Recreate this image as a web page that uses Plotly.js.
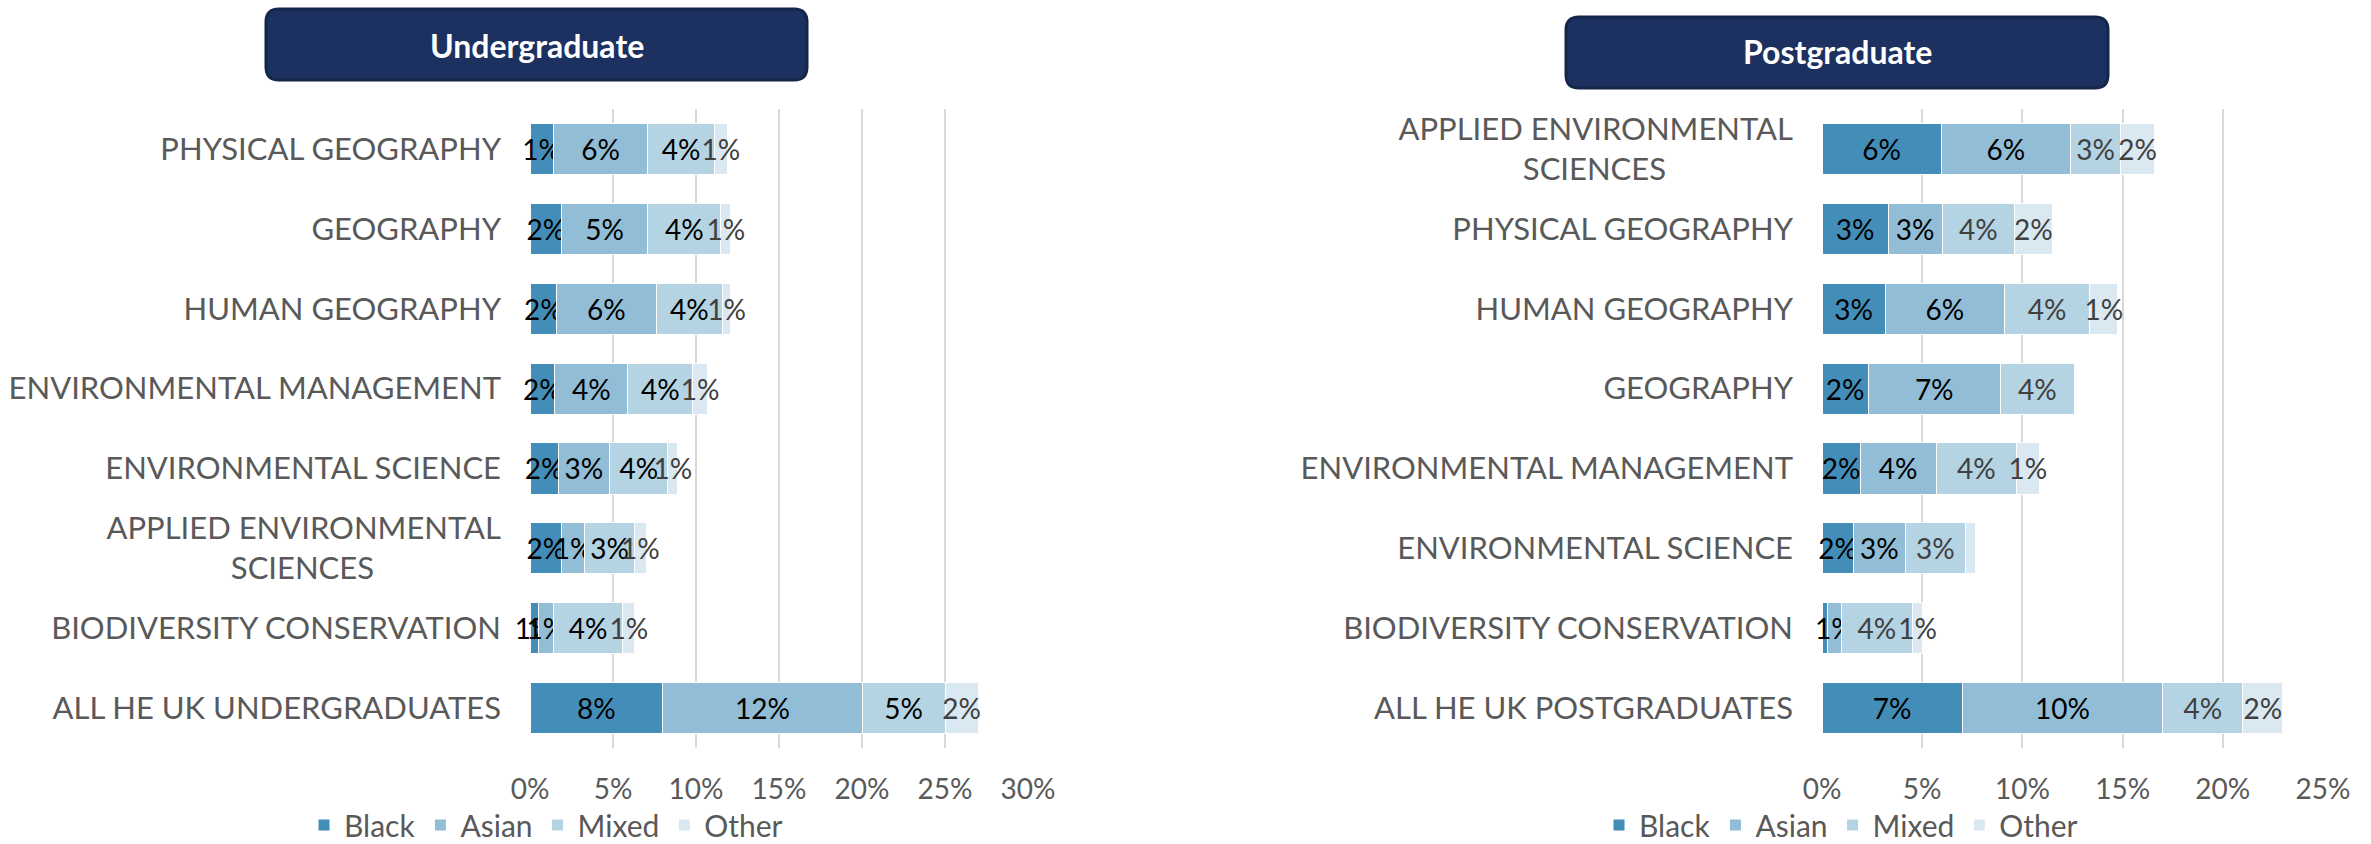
<!DOCTYPE html>
<html>
<head>
<meta charset="utf-8">
<script src="https://cdn.plot.ly/plotly-3.0.1.min.js"></script>
<style>
  html, body { margin: 0; padding: 0; background: #ffffff; }
  #chart { width: 2371px; height: 844px; }
</style>
</head>
<body>
<div id="chart"></div>
<script>
// ---------------- DATA ----------------
const seriesNames = ['Black', 'Asian', 'Mixed', 'Other'];

const categoriesUG = [
  'PHYSICAL GEOGRAPHY',
  'GEOGRAPHY',
  'HUMAN GEOGRAPHY',
  'ENVIRONMENTAL MANAGEMENT',
  'ENVIRONMENTAL SCIENCE',
  'APPLIED ENVIRONMENTAL<br>SCIENCES',
  'BIODIVERSITY CONSERVATION',
  'ALL HE UK UNDERGRADUATES'
];
const blackUG = [1.4, 1.9, 1.6, 1.5, 1.7, 1.9, 0.5, 8];
const asianUG = [5.7, 5.2, 6.0, 4.4, 3.1, 1.4, 0.9, 12];
const mixedUG = [4.0, 4.4, 4.0, 3.9, 3.5, 3.0, 4.2, 5];
const otherUG = [0.8, 0.6, 0.5, 0.9, 0.6, 0.7, 0.7, 2];

const categoriesPG = [
  'APPLIED ENVIRONMENTAL<br>SCIENCES',
  'PHYSICAL GEOGRAPHY',
  'HUMAN GEOGRAPHY',
  'GEOGRAPHY',
  'ENVIRONMENTAL MANAGEMENT',
  'ENVIRONMENTAL SCIENCE',
  'BIODIVERSITY CONSERVATION',
  'ALL HE UK POSTGRADUATES'
];
const blackPG = [5.95, 3.3, 3.15, 2.3, 1.9, 1.56, 0.29, 7];
const asianPG = [6.45, 2.7, 5.95, 6.6, 3.8, 2.6, 0.66, 10];
const mixedPG = [2.5, 3.6, 4.27, 3.7, 4.0, 3.0, 3.57, 4];
const otherPG = [1.7, 1.9, 1.39, 0, 1.15, 0.48, 0.51, 2];

const ticksUG = [0, 5, 10, 15, 20, 25, 30];
const ticksPG = [0, 5, 10, 15, 20, 25];

const titleUG = 'Undergraduate';
const titlePG = 'Postgraduate';

// ---------------- STYLE ----------------
const W = 2371, H = 844;
const FONT = 'Lato, "Open Sans", sans-serif';
const barColors = ['#438EB9', '#91BDD6', '#B4D3E3', '#DAE8F1'];
const labelColorsUG = ['#000000', '#000000', '#000000', '#404040'];
const labelColorsPG = ['#000000', '#000000', '#404040', '#404040'];
const grey = '#595959';

const px = v => v / W;
const py = v => 1 - v / H;

// centre multi-line category labels by right-padding shorter lines with NBSPs
const canvas = document.createElement('canvas');
const ctx = canvas.getContext('2d');
function centred(label, size) {
  const lines = label.split('<br>');
  if (lines.length < 2) return label;
  ctx.font = size + 'px Lato';
  const widths = lines.map(l => ctx.measureText(l).width);
  const maxW = Math.max(...widths);
  const nb = ctx.measureText('\u00A0').width || size * 0.25;
  return lines.map((l, i) => {
    const n = Math.round((maxW - widths[i]) / 2 / nb);
    return l + '\u00A0'.repeat(n);
  }).join('<br>');
}

function pct(v) {
  const r = Math.round(v);
  return r >= 1 ? r + '%' : '';
}

function makeTraces(cats, seriesVals, xa, ya, legendId, textColors) {
  return seriesVals.map((vals, i) => ({
    type: 'bar',
    orientation: 'h',
    name: seriesNames[i],
    x: vals,
    y: cats,
    xaxis: xa,
    yaxis: ya,
    legend: legendId,
    marker: { color: barColors[i], line: { color: '#ffffff', width: 1 } },
    text: vals.map(pct),
    textposition: 'inside',
    insidetextanchor: 'middle',
    textangle: 0,
    constraintext: 'none',
    cliponaxis: false,
    textfont: { family: FONT, size: 28, color: textColors[i] },
    hoverinfo: 'skip'
  }));
}

const data = [
  ...makeTraces(categoriesUG, [blackUG, asianUG, mixedUG, otherUG], 'x', 'y', 'legend', labelColorsUG),
  ...makeTraces(categoriesPG, [blackPG, asianPG, mixedPG, otherPG], 'x2', 'y2', 'legend2', labelColorsPG)
];

function roundedBox(x0, y0, x1, y1, r) {
  const rx = r / W, ry = r / H;
  const X0 = px(x0), X1 = px(x1), Y0 = py(y0), Y1 = py(y1);
  return `M${X0 + rx},${Y0} L${X1 - rx},${Y0} Q${X1},${Y0} ${X1},${Y0 - ry} ` +
         `L${X1},${Y1 + ry} Q${X1},${Y1} ${X1 - rx},${Y1} ` +
         `L${X0 + rx},${Y1} Q${X0},${Y1} ${X0},${Y1 + ry} ` +
         `L${X0},${Y0 - ry} Q${X0},${Y0} ${X0 + rx},${Y0} Z`;
}

const yDomain = [py(748), py(109)];

const xCommon = {
  showgrid: true, gridcolor: '#D9D9D9', gridwidth: 2,
  zeroline: false, showline: false, ticks: '',
  tickmode: 'array', fixedrange: true, automargin: false,
  tickfont: { family: FONT, size: 28, color: grey },
  ticklabelstandoff: 22
};
const yCommon = {
  type: 'category', autorange: 'reversed',
  showgrid: false, zeroline: false, showline: false, ticks: '',
  tickmode: 'array', fixedrange: true, automargin: false,
  tickfont: { family: FONT, size: 31, color: grey },
  ticklabelstandoff: 28
};

const layout = {
  width: W, height: H,
  margin: { l: 0, r: 0, t: 0, b: 0, pad: 0, autoexpand: false },
  paper_bgcolor: '#ffffff', plot_bgcolor: '#ffffff',
  barmode: 'stack',
  bargap: 0.36,
  showlegend: true,
  xaxis: Object.assign({}, xCommon, {
    domain: [px(530), px(1028)], range: [0, 30],
    tickvals: ticksUG, ticktext: ticksUG.map(t => t + '%'), anchor: 'y'
  }),
  yaxis: Object.assign({}, yCommon, {
    domain: yDomain, anchor: 'x',
    tickvals: categoriesUG, ticktext: categoriesUG.map(c => centred(c, 31))
  }),
  xaxis2: Object.assign({}, xCommon, {
    domain: [px(1822), px(2323)], range: [0, 25],
    tickvals: ticksPG, ticktext: ticksPG.map(t => t + '%'), anchor: 'y2'
  }),
  yaxis2: Object.assign({}, yCommon, {
    domain: yDomain, anchor: 'x2',
    tickvals: categoriesPG, ticktext: categoriesPG.map(c => centred(c, 31))
  }),
  legend: {
    orientation: 'h', x: px(546), xanchor: 'center', y: py(825), yanchor: 'middle',
    font: { family: FONT, size: 30, color: grey }, bgcolor: 'rgba(0,0,0,0)', traceorder: 'normal'
  },
  legend2: {
    orientation: 'h', x: px(1841), xanchor: 'center', y: py(825), yanchor: 'middle',
    font: { family: FONT, size: 30, color: grey }, bgcolor: 'rgba(0,0,0,0)', traceorder: 'normal'
  },
  shapes: [
    { type: 'path', xref: 'paper', yref: 'paper', path: roundedBox(266, 9, 807, 80, 13),
      fillcolor: '#1C3160', line: { color: '#14264A', width: 3 }, layer: 'above' },
    { type: 'path', xref: 'paper', yref: 'paper', path: roundedBox(1566, 17, 2108, 88, 13),
      fillcolor: '#1C3160', line: { color: '#14264A', width: 3 }, layer: 'above' }
  ],
  annotations: [
    { xref: 'paper', yref: 'paper', x: px(536.5), y: py(45), xanchor: 'center', yanchor: 'middle',
      text: '<b>' + titleUG + '</b>', showarrow: false,
      font: { family: FONT, size: 32, color: '#ffffff' } },
    { xref: 'paper', yref: 'paper', x: px(1837), y: py(52), xanchor: 'center', yanchor: 'middle',
      text: '<b>' + titlePG + '</b>', showarrow: false,
      font: { family: FONT, size: 32, color: '#ffffff' } }
  ]
};

Plotly.newPlot('chart', data, layout, { displayModeBar: false, staticPlot: true });
</script>
</body>
</html>
